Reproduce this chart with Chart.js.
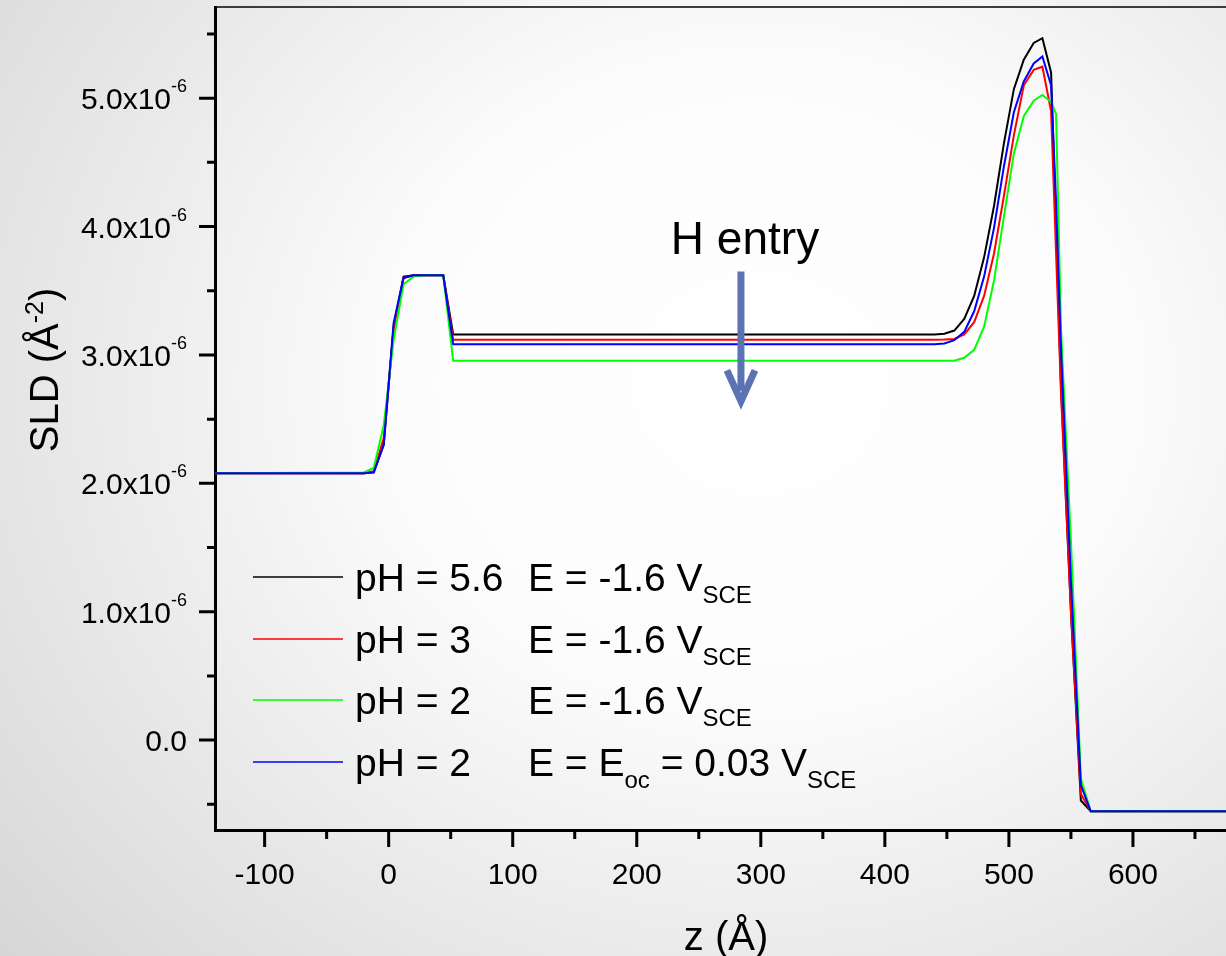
<!DOCTYPE html>
<html>
<head>
<meta charset="utf-8">
<title>SLD profiles</title>
<script src="https://cdn.jsdelivr.net/npm/chart.js@4.4.0/dist/chart.umd.min.js"></script>
<style>
  html, body { margin: 0; padding: 0; width: 1226px; height: 956px; overflow: hidden; }
  body { background: radial-gradient(ellipse 85% 95% at 62% 40%, #ffffff 0%, #fcfcfc 35%, #d4d4d4 100%); }
  canvas { display: block; }
</style>
</head>
<body>
<canvas id="sldChart" width="1280" height="956"></canvas>
<script>
// depth z (Å) shared by all four profiles
const zValues = [-140, -20, -12, -4, 4, 12, 20, 28, 36, 44, 52, 440, 448, 456, 464, 472,
                 480, 488, 496, 504, 512, 520, 527, 534, 538, 542, 550, 558, 566, 700];

// SLD in units of 1e-6 Å^-2
const sldPH56 = [2.078, 2.078, 2.085, 2.30, 3.22, 3.61, 3.62, 3.62, 3.62, 3.62, 3.16, 3.16, 3.165, 3.19, 3.28, 3.46,
                 3.76, 4.16, 4.65, 5.07, 5.30, 5.43, 5.467, 5.20, 4.0, 2.75, 1.0, -0.47, -0.554, -0.554];
const sldPH3 = [2.078, 2.078, 2.095, 2.35, 3.20, 3.60, 3.62, 3.62, 3.62, 3.62, 3.118, 3.118, 3.12, 3.125, 3.16, 3.255,
                3.46, 3.79, 4.24, 4.71, 5.10, 5.22, 5.245, 4.90, 3.8, 2.7, 1.0, -0.42, -0.554, -0.554];
const sldPH2 = [2.078, 2.085, 2.12, 2.45, 3.12, 3.55, 3.61, 3.62, 3.62, 3.62, 2.954, 2.954, 2.954, 2.955, 2.978, 3.04,
                3.22, 3.58, 4.08, 4.57, 4.86, 4.98, 5.025, 4.97, 4.877, 3.2, 1.55, -0.3, -0.554, -0.554];
const sldPH2oc = [2.078, 2.078, 2.085, 2.30, 3.25, 3.60, 3.62, 3.62, 3.62, 3.62, 3.084, 3.084, 3.09, 3.115, 3.18, 3.34,
                  3.61, 3.99, 4.47, 4.89, 5.13, 5.27, 5.324, 5.10, 4.2, 3.05, 1.25, -0.35, -0.554, -0.554];

const seriesColors = ['#000000', '#ff0000', '#00ff00', '#0000ff'];
const legendPH = ['pH = 5.6', 'pH = 3', 'pH = 2', 'pH = 2'];
// each potential label is a list of [text, isSubscript] pieces
const legendPotential = [
    [['E = -1.6 V', false], ['SCE', true]],
    [['E = -1.6 V', false], ['SCE', true]],
    [['E = -1.6 V', false], ['SCE', true]],
    [['E = E', false], ['oc', true], [' = 0.03 V', false], ['SCE', true]]
];

const xTickValues = [-100, 0, 100, 200, 300, 400, 500, 600];
const xMinorTicks = [-50, 50, 150, 250, 350, 450, 550, 650];
const yTickValues = [0, 1, 2, 3, 4, 5];
const yMinorTicks = [-0.5, 0.5, 1.5, 2.5, 3.5, 4.5, 5.5];

const FONT = "'Liberation Sans', Arial, sans-serif";

function toPoints(values) {
    return zValues.map((z, i) => ({ x: z, y: values[i] }));
}

// draws text pieces in a row, subscripts lowered and smaller
function drawPieces(ctx, pieces, x, y, size, subSize) {
    for (const [text, isSub] of pieces) {
        ctx.font = `${isSub ? subSize : size}px ${FONT}`;
        ctx.fillText(text, x, isSub ? y + subSize * 0.5 : y);
        x += ctx.measureText(text).width;
    }
    return x;
}

const decorPlugin = {
    id: 'decor',
    afterDraw(chart) {
        const { ctx, chartArea: a, scales: { x, y } } = chart;
        ctx.save();
        ctx.strokeStyle = '#000';
        ctx.fillStyle = '#000';

        // thin top frame
        ctx.lineWidth = 1.5;
        ctx.beginPath();
        ctx.moveTo(a.left, a.top);
        ctx.lineTo(a.right, a.top);
        ctx.stroke();

        // tick marks, outside
        ctx.lineWidth = 3;
        ctx.beginPath();
        yTickValues.forEach(v => { const p = y.getPixelForValue(v); ctx.moveTo(a.left - 16, p); ctx.lineTo(a.left, p); });
        yMinorTicks.forEach(v => { const p = y.getPixelForValue(v); ctx.moveTo(a.left - 8, p); ctx.lineTo(a.left, p); });
        xTickValues.forEach(v => { const p = x.getPixelForValue(v); ctx.moveTo(p, a.bottom); ctx.lineTo(p, a.bottom + 17); });
        xMinorTicks.forEach(v => { const p = x.getPixelForValue(v); ctx.moveTo(p, a.bottom); ctx.lineTo(p, a.bottom + 9); });
        ctx.stroke();

        // y tick labels with x10^-6
        ctx.textBaseline = 'alphabetic';
        yTickValues.forEach(v => {
            const p = y.getPixelForValue(v);
            const right = a.left - 28;
            if (v === 0) {
                ctx.font = `30px ${FONT}`;
                ctx.textAlign = 'right';
                ctx.fillText('0.0', right, p + 11);
                return;
            }
            ctx.font = `18px ${FONT}`;
            const supW = ctx.measureText('-6').width;
            ctx.textAlign = 'right';
            ctx.fillText('-6', right, p - 6);
            ctx.font = `30px ${FONT}`;
            ctx.fillText(v.toFixed(1) + 'x10', right - supW, p + 11);
        });

        // axis titles
        ctx.textAlign = 'left';
        ctx.font = `40px ${FONT}`;
        const zt = 'z (Å)';
        ctx.fillText(zt, 726 - ctx.measureText(zt).width / 2, 950);

        ctx.save();
        ctx.translate(58, 370);
        ctx.rotate(-Math.PI / 2);
        const yPieces = [['SLD (Å', 40, 0], ['-2', 25, -15], [')', 40, 0]];
        let total = 0;
        yPieces.forEach(([t, s]) => { ctx.font = `${s}px ${FONT}`; total += ctx.measureText(t).width; });
        let cx = -total / 2;
        yPieces.forEach(([t, s, dy]) => { ctx.font = `${s}px ${FONT}`; ctx.fillText(t, cx, dy); cx += ctx.measureText(t).width; });
        ctx.restore();

        // legend inside the plot
        const rowY = [577, 639, 700, 762];
        rowY.forEach((ry, i) => {
            ctx.strokeStyle = seriesColors[i];
            ctx.lineWidth = 1.6;
            ctx.beginPath();
            ctx.moveTo(253, ry);
            ctx.lineTo(343, ry);
            ctx.stroke();
            ctx.font = `39px ${FONT}`;
            ctx.fillText(legendPH[i], 355, ry + 14);
            drawPieces(ctx, legendPotential[i], 528, ry + 14, 39, 24);
        });

        // "H entry" annotation with arrow
        const ax = x.getPixelForValue(284);
        ctx.font = `46px ${FONT}`;
        ctx.textAlign = 'center';
        ctx.fillText('H entry', 745, 254);
        ctx.strokeStyle = '#5b73b3';
        ctx.lineWidth = 7;
        ctx.lineCap = 'butt';
        ctx.beginPath();
        ctx.moveTo(ax, y.getPixelForValue(3.65));
        ctx.lineTo(ax, y.getPixelForValue(2.72));
        ctx.stroke();
        ctx.lineJoin = 'miter';
        ctx.beginPath();
        ctx.moveTo(ax - 14, y.getPixelForValue(2.88));
        ctx.lineTo(ax, y.getPixelForValue(2.64));
        ctx.lineTo(ax + 14, y.getPixelForValue(2.88));
        ctx.stroke();

        ctx.restore();
    }
};

const datasets = [
    { label: 'pH = 5.6  E = -1.6 V_SCE', data: toPoints(sldPH56), borderColor: seriesColors[0], order: 4 },
    { label: 'pH = 3  E = -1.6 V_SCE', data: toPoints(sldPH3), borderColor: seriesColors[1], order: 3 },
    { label: 'pH = 2  E = -1.6 V_SCE', data: toPoints(sldPH2), borderColor: seriesColors[2], order: 2 },
    { label: 'pH = 2  E = E_oc = 0.03 V_SCE', data: toPoints(sldPH2oc), borderColor: seriesColors[3], order: 1 }
].map(d => Object.assign(d, { borderWidth: 2, pointRadius: 0, tension: 0, fill: false }));

new Chart(document.getElementById('sldChart'), {
    type: 'line',
    data: { datasets },
    plugins: [decorPlugin],
    options: {
        responsive: false,
        animation: false,
        layout: { padding: { top: 7, right: 23, left: 0, bottom: 0 } },
        plugins: { legend: { display: false }, tooltip: { enabled: false } },
        scales: {
            x: {
                type: 'linear',
                min: -140,
                max: 700,
                afterBuildTicks: s => { s.ticks = xTickValues.map(v => ({ value: v })); },
                afterFit: s => { s.height = 126; },
                ticks: { font: { family: FONT, size: 30 }, color: '#000', maxRotation: 0, autoSkip: false, padding: 11 },
                grid: { display: true, drawOnChartArea: false, drawTicks: true, tickLength: 17, color: 'rgba(0,0,0,0)' },
                border: { display: true, color: '#000', width: 3 }
            },
            y: {
                type: 'linear',
                min: -0.7,
                max: 5.71,
                afterFit: s => { s.width = 215; },
                ticks: { display: false },
                grid: { display: false },
                border: { display: true, color: '#000', width: 3 }
            }
        }
    }
});
</script>
</body>
</html>
